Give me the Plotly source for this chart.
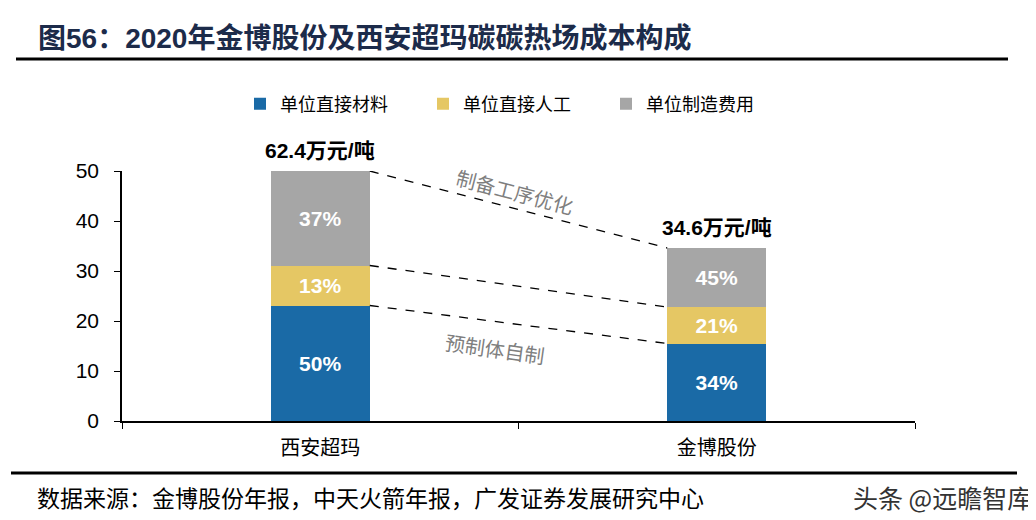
import plotly.graph_objects as go

categories = ["西安超玛", "金博股份"]
series_names = ["单位直接材料", "单位直接人工", "单位制造费用"]
material = [23.1, 15.5]
labor = [8.0, 7.3]
overhead = [18.9, 11.8]
material_pct = ["50%", "34%"]
labor_pct = ["13%", "21%"]
overhead_pct = ["37%", "45%"]
totals_label = ["62.4万元/吨", "34.6万元/吨"]
y_ticks = [0, 10, 20, 30, 40, 50]
colors = ["#1a6aa6", "#e5c764", "#a6a6a6"]

OFF = 8  # page body margin
W, H = 1036, 520
L = 122 - OFF
T = 171 - OFF
pw = 915 - 122
ph = 421 - 171
R = W - L - pw
B = H - T - ph

def px2paper_x(px):
    return (px - OFF - L) / pw

def px2paper_y(py):
    return (T + ph - (py - OFF)) / ph

cjk = "Noto Sans CJK SC"
fig = go.Figure()
for name, vals, txt, col in zip(series_names, [material, labor, overhead],
                                [material_pct, labor_pct, overhead_pct], colors):
    fig.add_trace(go.Bar(
        x=categories, y=vals, name=name, text=txt, marker_color=col,
        marker_line_width=0, width=0.25,
        textposition="inside", insidetextanchor="middle",
        textfont=dict(family="Liberation Sans", size=21, color="white", weight="bold"),
        hoverinfo="skip",
    ))

stack_tops = []
for i in range(len(categories)):
    a = material[i]
    b = a + labor[i]
    c = b + overhead[i]
    stack_tops.append((a, b, c))

for k in range(3):
    fig.add_shape(type="line", xref="x", yref="y",
                  x0=0.125, x1=0.875, y0=stack_tops[0][k], y1=stack_tops[1][k],
                  line=dict(color="black", width=1.3, dash="dash"))

annotations = []
for i, cat in enumerate(categories):
    annotations.append(dict(x=cat, y=stack_tops[i][2], xref="x", yref="y",
                            text=totals_label[i], showarrow=False, yanchor="bottom", yshift=7,
                            font=dict(family="Liberation Sans, " + cjk, size=21, color="black", weight="bold")))

annotations.append(dict(x=0.49, y=46.0, xref="x", yref="y", text="制备工序优化", showarrow=False,
                        textangle=14.5, font=dict(family=cjk, size=20, color="#7f7f7f")))
annotations.append(dict(x=0.44, y=14.6, xref="x", yref="y", text="预制体自制", showarrow=False,
                        textangle=8, font=dict(family=cjk, size=20, color="#7f7f7f")))

annotations.append(dict(x=px2paper_x(36), y=px2paper_y(38), xref="paper", yref="paper",
                        text="图56：2020年金博股份及西安超玛碳碳热场成本构成", showarrow=False,
                        xanchor="left", yanchor="middle",
                        font=dict(family="Liberation Sans, " + cjk, size=28, color="#1c2b4a", weight="bold")))
annotations.append(dict(x=px2paper_x(35), y=px2paper_y(497), xref="paper", yref="paper",
                        text="数据来源：金博股份年报，中天火箭年报，广发证券发展研究中心", showarrow=False,
                        xanchor="left", yanchor="middle",
                        font=dict(family=cjk, size=23, color="black")))
annotations.append(dict(x=px2paper_x(1034), y=px2paper_y(497), xref="paper", yref="paper",
                        text="头条 @远瞻智库", showarrow=False,
                        xanchor="right", yanchor="middle",
                        font=dict(family=cjk, size=25, color="#333333")))

fig.add_shape(type="line", xref="paper", yref="paper",
              x0=px2paper_x(16), x1=px2paper_x(1008), y0=px2paper_y(59), y1=px2paper_y(59),
              line=dict(color="black", width=3))
fig.add_shape(type="line", xref="paper", yref="paper",
              x0=px2paper_x(11), x1=px2paper_x(1017), y0=px2paper_y(473), y1=px2paper_y(473),
              line=dict(color="black", width=3))

fig.update_layout(
    width=W, height=H, barmode="stack",
    margin=dict(l=L, r=R, t=T, b=B, pad=0),
    plot_bgcolor="white", paper_bgcolor="white",
    annotations=annotations,
    showlegend=True,
    legend=dict(orientation="h", x=px2paper_x(240), y=px2paper_y(104), xanchor="left", yanchor="middle",
                font=dict(family=cjk, size=18, color="black"),
                entrywidth=138, entrywidthmode="pixels", traceorder="normal",
                itemclick=False, itemdoubleclick=False),
    xaxis=dict(range=[-0.5, 1.5], showline=True, linecolor="black", linewidth=1.5,
               ticks="outside", tickson="boundaries", ticklen=6, tickcolor="black",
               ticklabelstandoff=8,
               tickfont=dict(family=cjk, size=20, color="black"), showgrid=False, fixedrange=True),
    yaxis=dict(range=[0, 50], tickvals=y_ticks, showline=True, linecolor="black", linewidth=1.5,
               ticks="outside", ticklen=6, tickcolor="black", ticklabelstandoff=11,
               tickfont=dict(family="Liberation Sans", size=21, color="black"),
               showgrid=False, zeroline=False, fixedrange=True),
)

fig.write_html("out.html")
